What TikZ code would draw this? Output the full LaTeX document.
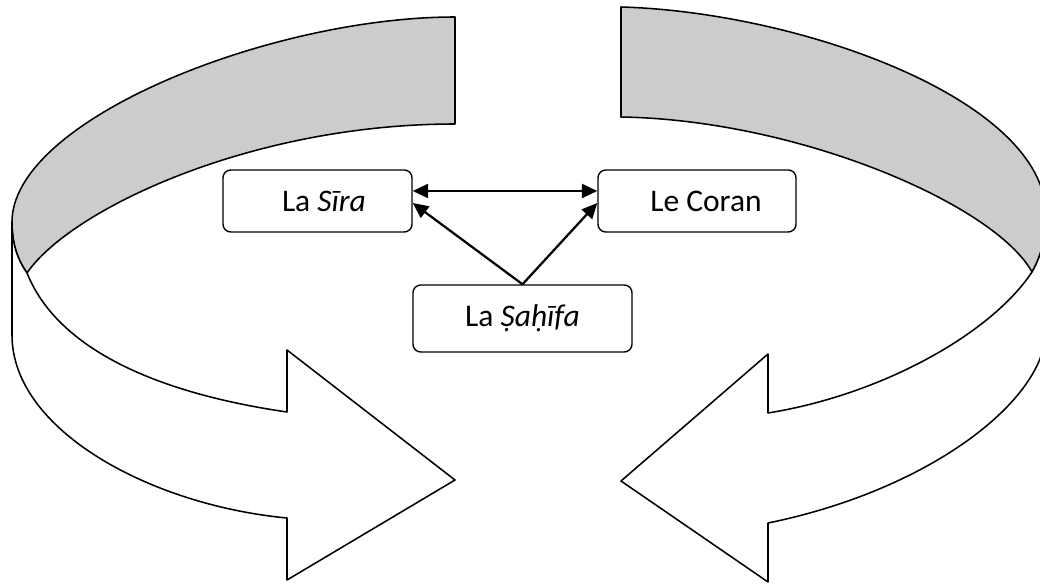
\documentclass[tikz,border=0pt]{standalone}
\usepackage{fontspec}
\setmainfont{Carlito}
\usetikzlibrary{positioning,calc,arrows.meta}
\tikzset{rbox/.style={draw, rounded corners=2.8pt, line width=0.5pt, minimum height=0.775cm, inner sep=0pt, font=\fontsize{11.2}{13}\selectfont}}
\tikzset{arr/.style={draw, line width=0.8pt, -{Triangle[length=5.5pt,width=5pt]}}}
\tikzset{arrs/.style={arr, {Triangle[length=5.5pt,width=5pt]}-{Triangle[length=5.5pt,width=5pt]}}}
\tikzset{ribbon/.style={draw, line width=0.55pt, line join=round}}
\tikzset{back/.style={ribbon, fill=black!20}}
\tikzset{front/.style={ribbon, fill=white}}

\begin{document}
\begin{tikzpicture}[x=0.0125cm, y=-0.0125cm]
	\path[use as bounding box] (0,0) rectangle (1040,584);
	\begin{scope}
		\clip (0,0) rectangle (1040,584);
		% left turn
		\draw[back] (455,17) -- (455,124) .. controls (250,124) and (70,210) .. (27,273)
			.. controls (18,260) and (12,245) .. (12,222) .. controls (12,120) and (270,17) .. cycle;
		\draw[front] (12,222) -- (12,335) .. controls (12,430) and (150,505) .. (287,518)
			-- (287,580) -- (455,480) -- (287,350) -- (287,412)
			.. controls (170,395) and (60,355) .. (27,273) .. controls (18,260) and (12,245) .. cycle;
		% right turn
		\draw[back] (621,7) -- (621,117) .. controls (800,120) and (995,205) .. (1032,272)
			.. controls (1040,258) and (1046,240) .. (1046,215) .. controls (1046,100) and (800,12) .. cycle;
		\draw[front] (1046,215) -- (1046,330) .. controls (1046,400) and (930,490) .. (768,523)
			-- (768,582) -- (621,481) -- (768,354) -- (768,413)
			.. controls (880,395) and (990,335) .. (1032,272) .. controls (1040,258) and (1046,240) .. cycle;
	\end{scope}
	\node[rbox, minimum width=2.3625cm] (sira) at (317.5,201) {\hspace{4.6pt}La \emph{Sīra}};
	\node[rbox, minimum width=2.475cm] (coran) at (697,201) {\hspace{6.4pt}Le Coran};
	\node[rbox, minimum width=2.7375cm, minimum height=0.8375cm] (sahifa) at (522.5,318.5) {La \emph{Ṣaḥīfa}};
	\draw[arrs] ($(sira.east)+(0,-10)$) -- ($(coran.west)+(0,-10)$);
	\draw[arr] (sahifa.north) -- ($(sira.east)+(0,2)$);
	\draw[arr] (sahifa.north) -- ($(coran.west)+(0,2)$);
\end{tikzpicture}
\end{document}
